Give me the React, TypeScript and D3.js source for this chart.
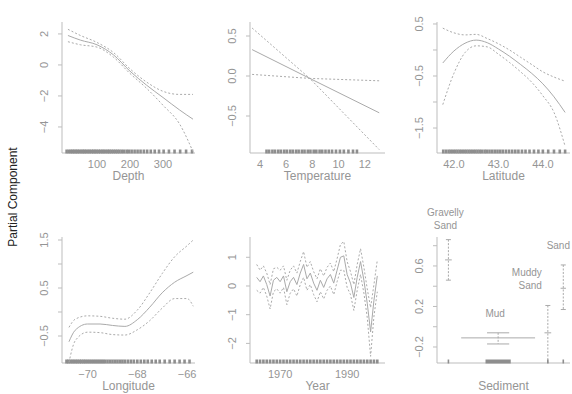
import React, { useRef, useEffect } from "react";
import * as d3 from "d3";

// Depth term
const depthX = [12, 50, 100, 150, 200, 250, 300, 350, 391];
const depthFit = [1.9, 1.6, 1.3, 0.65, -0.4, -1.3, -2.1, -2.9, -3.5];
const depthUpper = [2.3, 1.9, 1.45, 0.8, -0.25, -1.1, -1.7, -1.9, -1.9];
const depthLower = [1.5, 1.3, 1.15, 0.5, -0.55, -1.5, -2.6, -3.8, -5.6];
const depthRug = [8, 15, 21, 26, 31, 36, 41, 46, 52, 57, 62, 67, 73, 78, 84, 89, 94, 99, 105, 110, 116, 121, 127, 133, 138, 144, 150, 156, 162, 168, 175, 182, 190, 197, 205, 214, 223, 232, 242, 252, 263, 275, 288, 302, 318, 335, 352, 370, 388];

// Temperature term (linear)
const tempX = [3.4, 7.8, 13.1];
const tempFit = [0.33, -0.03, -0.46];
const tempUpper = [0.6, -0.03, -0.06];
const tempLower = [0.02, -0.03, -0.92];
const tempRug = [4.5, 4.7, 4.95, 5.15, 5.4, 5.6, 5.85, 6.05, 6.3, 6.5, 6.75, 6.95, 7.2, 7.4, 7.65, 7.85, 8.1, 8.3, 8.55, 8.75, 9.0, 9.25, 9.5, 9.8, 10.1, 10.4, 10.75, 11.1, 11.4];

// Latitude term
const latX = [41.75, 42.0, 42.25, 42.5, 42.75, 43.0, 43.25, 43.5, 43.75, 44.0, 44.25, 44.5];
const latFit = [-0.25, -0.02, 0.13, 0.19, 0.14, 0.02, -0.12, -0.28, -0.45, -0.65, -0.9, -1.2];
const latUpper = [0.42, 0.33, 0.29, 0.3, 0.22, 0.12, 0.0, -0.14, -0.28, -0.42, -0.52, -0.6];
const latLower = [-1.05, -0.45, -0.05, 0.08, 0.06, -0.08, -0.24, -0.42, -0.62, -0.88, -1.2, -1.85];
const latRug = [41.76, 41.82, 41.88, 41.93, 41.98, 42.03, 42.08, 42.13, 42.18, 42.23, 42.28, 42.33, 42.38, 42.43, 42.48, 42.53, 42.58, 42.63, 42.69, 42.74, 42.8, 42.86, 42.92, 42.98, 43.04, 43.1, 43.17, 43.24, 43.31, 43.38, 43.45, 43.53, 43.61, 43.7, 43.8, 43.9, 44.0, 44.12, 44.25, 44.38, 44.5];

// Longitude term
const lonX = [-70.75, -70.5, -70.0, -69.5, -69.0, -68.5, -68.0, -67.5, -67.0, -66.5, -66.0, -65.75];
const lonFit = [-0.62, -0.38, -0.25, -0.25, -0.28, -0.3, -0.16, 0.1, 0.4, 0.62, 0.76, 0.83];
const lonUpper = [-0.32, -0.15, -0.08, -0.09, -0.13, -0.15, 0.04, 0.4, 0.8, 1.15, 1.38, 1.5];
const lonLower = [-1.05, -0.6, -0.42, -0.43, -0.47, -0.48, -0.37, -0.18, 0.08, 0.28, 0.28, 0.12];
const lonRug = [-70.85, -70.78, -70.7, -70.62, -70.55, -70.47, -70.4, -70.32, -70.25, -70.17, -70.1, -70.02, -69.94, -69.86, -69.78, -69.7, -69.62, -69.54, -69.46, -69.38, -69.3, -69.2, -69.1, -69.0, -68.9, -68.8, -68.7, -68.6, -68.5, -68.38, -68.26, -68.14, -68.0, -67.86, -67.72, -67.58, -67.42, -67.26, -67.1, -66.9, -66.7, -66.5, -66.3, -66.1, -65.9];

// Year term
const years = [1963, 1964, 1965, 1966, 1967, 1968, 1969, 1970, 1971, 1972, 1973, 1974, 1975, 1976, 1977, 1978, 1979, 1980, 1981, 1982, 1983, 1984, 1985, 1986, 1987, 1988, 1989, 1990, 1991, 1992, 1993, 1994, 1995, 1996, 1997, 1998, 1999];
const yearFit = [0.3, 0.15, 0.35, 0.05, -0.35, 0.2, 0.3, 0.15, 0.35, -0.2, 0.15, 0.3, 0.05, 0.45, 0.75, 0.25, 0.45, 0.1, -0.15, 0.2, -0.05, 0.25, 0.4, 0.1, 0.55, 1.0, 1.05, 0.4, 0.1, -0.4, 0.3, 0.85, 0.2, -0.6, -1.6, -0.5, 0.35];
const yearUpper = [0.75, 0.55, 0.7, 0.45, 0.05, 0.6, 0.65, 0.55, 0.7, 0.2, 0.55, 0.7, 0.45, 0.85, 1.2, 0.65, 0.85, 0.5, 0.25, 0.6, 0.35, 0.65, 0.8, 0.5, 0.95, 1.45, 1.55, 0.85, 0.5, 0.05, 0.75, 1.3, 0.65, -0.1, -0.75, 0.05, 0.9];
const yearLower = [-0.15, -0.25, -0.05, -0.35, -0.8, -0.2, -0.1, -0.25, -0.05, -0.65, -0.25, -0.1, -0.35, 0.05, 0.3, -0.15, 0.05, -0.3, -0.55, -0.2, -0.45, -0.15, 0.0, -0.3, 0.15, 0.55, 0.55, -0.05, -0.3, -0.85, -0.15, 0.4, -0.25, -1.1, -2.45, -1.05, -0.2];

// Sediment term (factor)
const sedLevels = ["Gravelly Sand", "Mud", "Muddy Sand", "Sand"];
const sedCounts = [10, 110, 10, 8];
const sedFit = [0.66, -0.11, -0.06, 0.38];
const sedUpper = [0.86, -0.06, 0.21, 0.61];
const sedLower = [0.46, -0.17, -0.36, 0.17];

const FONT = "'Liberation Sans', Arial, Helvetica, sans-serif";
const AXIS = "#bdbdbd";
const TEXT = "#959595";
const LINE = "#aaaaaa";
const RUG = "#8e8e8e";

const App = () => {
  const svgRef = useRef<SVGSVGElement>(null);

  useEffect(() => {
    const svg = d3.select(svgRef.current);
    svg.selectAll("*").remove();

    const width = 572;
    const height = 394;
    svg.attr("width", width).attr("height", height);

    const cols = [[62, 195], [250, 385], [437, 570]];
    const rows = [[22, 153], [237, 363]];

    const smooths = [
      { title: "Depth", xs: depthX, fit: depthFit, up: depthUpper, lo: depthLower, rug: depthRug,
        xDomain: [-6, 397], yDomain: [-5.68, 2.77], xTicks: [100, 200, 300], xFmt: d3.format("d"),
        yTicks: [-4, -2, 0, 2], yLabels: [-4, -2, 0, 2], yFmt: d3.format("d"), curve: d3.curveMonotoneX },
      { title: "Temperature", xs: tempX, fit: tempFit, up: tempUpper, lo: tempLower, rug: tempRug,
        xDomain: [3.24, 13.54], yDomain: [-0.9625, 0.675], xTicks: [4, 6, 8, 10, 12], xFmt: d3.format("d"),
        yTicks: [-0.5, 0, 0.5], yLabels: [-0.5, 0, 0.5], yFmt: d3.format(".1f"), curve: d3.curveLinear },
      { title: "Latitude", xs: latX, fit: latFit, up: latUpper, lo: latLower, rug: latRug,
        xDomain: [41.62, 44.61], yDomain: [-1.98, 0.538], xTicks: [42, 43, 44], xFmt: d3.format(".1f"),
        yTicks: [-1.5, -1, -0.5, 0, 0.5], yLabels: [-1.5, -0.5, 0.5], yFmt: d3.format(".1f"), curve: d3.curveMonotoneX },
      { title: "Longitude", xs: lonX, fit: lonFit, up: lonUpper, lo: lonLower, rug: lonRug,
        xDomain: [-71.03, -65.68], yDomain: [-1.0625, 1.5625], xTicks: [-70, -68, -66], xFmt: d3.format("d"),
        yTicks: [-0.5, 0, 0.5, 1, 1.5], yLabels: [-0.5, 0.5, 1.5], yFmt: d3.format(".1f"), curve: d3.curveMonotoneX },
      { title: "Year", xs: years, fit: yearFit, up: yearUpper, lo: yearLower, rug: years,
        xDomain: [1961, 2001.3], yDomain: [-2.683, 1.707], xTicks: [1970, 1990], xFmt: d3.format("d"),
        yTicks: [-2, -1, 0, 1], yLabels: [-2, -1, 0, 1], yFmt: d3.format("d"), curve: d3.curveLinear },
    ];

    const drawAxes = (g, x, y, x0, x1, y0, y1, yTicks, yLabels, yFmt, title) => {
      g.append("line").attr("x1", x0).attr("x2", x0).attr("y1", y0).attr("y2", y1)
        .attr("stroke", AXIS).attr("stroke-width", 1);
      g.append("line").attr("x1", x0).attr("x2", x1).attr("y1", y1).attr("y2", y1)
        .attr("stroke", AXIS).attr("stroke-width", 1);
      yTicks.forEach((v) => {
        g.append("line").attr("x1", x0 - 4).attr("x2", x0).attr("y1", y(v)).attr("y2", y(v))
          .attr("stroke", AXIS);
      });
      yLabels.forEach((v) => {
        g.append("text")
          .attr("transform", `translate(${x0 - 18},${y(v)}) rotate(-90)`)
          .attr("text-anchor", "middle").attr("dominant-baseline", "central")
          .attr("font-size", 11).attr("fill", TEXT).attr("font-family", FONT)
          .text(yFmt(v));
      });
      g.append("text").attr("x", (x0 + x1) / 2).attr("y", y1 + 23)
        .attr("text-anchor", "middle").attr("dominant-baseline", "central")
        .attr("font-size", 12).attr("fill", TEXT).attr("font-family", FONT)
        .text(title);
    };

    smooths.forEach((p, i) => {
      const [x0, x1] = cols[i % 3];
      const [y0, y1] = rows[Math.floor(i / 3)];
      const x = d3.scaleLinear().domain(p.xDomain).range([x0, x1]);
      const y = d3.scaleLinear().domain(p.yDomain).range([y1, y0]);
      const g = svg.append("g");

      svg.append("defs").append("clipPath").attr("id", `clip${i}`)
        .append("rect").attr("x", x0).attr("y", y0).attr("width", x1 - x0 + 2).attr("height", y1 - y0);

      drawAxes(g, x, y, x0, x1, y0, y1, p.yTicks, p.yLabels, p.yFmt, p.title);

      p.xTicks.forEach((v) => {
        g.append("text").attr("x", x(v)).attr("y", y1 + 11)
          .attr("text-anchor", "middle").attr("dominant-baseline", "central")
          .attr("font-size", 11).attr("fill", TEXT).attr("font-family", FONT)
          .text(p.xFmt(v));
      });

      // rug
      g.append("g").selectAll("line").data(p.rug).join("line")
        .attr("x1", (d) => x(d)).attr("x2", (d) => x(d))
        .attr("y1", y1 + 0.5).attr("y2", y1 - 3.5)
        .attr("stroke", RUG).attr("stroke-width", 2.6);

      const line = (vals) => d3.line<number>()
        .x((d, k) => x(p.xs[k])).y((d) => y(d)).curve(p.curve)(vals);

      const cg = g.append("g").attr("clip-path", `url(#clip${i})`);
      cg.append("path").attr("d", line(p.fit)).attr("fill", "none")
        .attr("stroke", LINE).attr("stroke-width", 1);
      [p.up, p.lo].forEach((s) => {
        cg.append("path").attr("d", line(s)).attr("fill", "none")
          .attr("stroke", LINE).attr("stroke-width", 1).attr("stroke-dasharray", "2,2");
      });
    });

    // Sediment factor panel
    {
      const [x0, x1] = cols[2];
      const [y0, y1] = rows[1];
      const gap = 14;
      const starts = sedCounts.map((c, k) => 12 + d3.sum(sedCounts.slice(0, k)) + gap * k);
      const x = d3.scaleLinear().domain([0, 198]).range([x0, x1]);
      const y = d3.scaleLinear().domain([-0.358, 0.886]).range([y1, y0]);
      const g = svg.append("g");
      drawAxes(g, x, y, x0, x1, y0, y1, [-0.2, 0, 0.2, 0.4, 0.6, 0.8], [-0.2, 0.2, 0.6], d3.format(".1f"), "Sediment");

      sedLevels.forEach((lev, k) => {
        const a = x(starts[k]);
        const b = x(starts[k] + sedCounts[k]);
        const c = (a + b) / 2;
        const cap = Math.max((b - a) * 0.3, 5);
        g.append("line").attr("x1", a).attr("x2", b).attr("y1", y(sedFit[k])).attr("y2", y(sedFit[k]))
          .attr("stroke", LINE).attr("stroke-width", 1);
        g.append("line").attr("x1", c).attr("x2", c).attr("y1", y(sedUpper[k])).attr("y2", y(Math.max(sedLower[k], -0.358)))
          .attr("stroke", LINE).attr("stroke-width", 1).attr("stroke-dasharray", "2,1.5");
        [sedUpper[k], sedLower[k]].forEach((v) => {
          if (v < -0.358) return;
          g.append("line").attr("x1", c - cap / 2).attr("x2", c + cap / 2).attr("y1", y(v)).attr("y2", y(v))
            .attr("stroke", LINE).attr("stroke-width", 1);
        });
        // rug
        const rugHalf = k === 1 ? (b - a) * 0.16 : 0;
        g.append("rect").attr("x", c - rugHalf - 0.8).attr("y", y1 - 3.5).attr("width", rugHalf * 2 + 1.6).attr("height", 4)
          .attr("fill", RUG);

        const words = lev.split(" ");
        const anchor = k === 2 ? "end" : k === 3 ? "end" : "middle";
        const tx = k === 2 ? c - 6 : k === 3 ? x1 : c - 3;
        const base = y(sedUpper[k]) - (k === 0 ? 11 : 16);
        words.forEach((w, j) => {
          g.append("text").attr("x", tx).attr("y", base - (words.length - 1 - j) * 13)
            .attr("text-anchor", anchor)
            .attr("font-size", 10).attr("fill", TEXT).attr("font-family", FONT)
            .text(w);
        });
      });
    }

    svg.append("text")
      .attr("transform", `translate(13,${197}) rotate(-90)`)
      .attr("text-anchor", "middle").attr("dominant-baseline", "central")
      .attr("font-size", 12).attr("fill", "#222").attr("font-family", FONT)
      .text("Partial Component");
  }, []);

  return (
    <svg ref={svgRef} style={{ position: "absolute", left: 0, top: 0 }}></svg>
  );
};

export default App;
